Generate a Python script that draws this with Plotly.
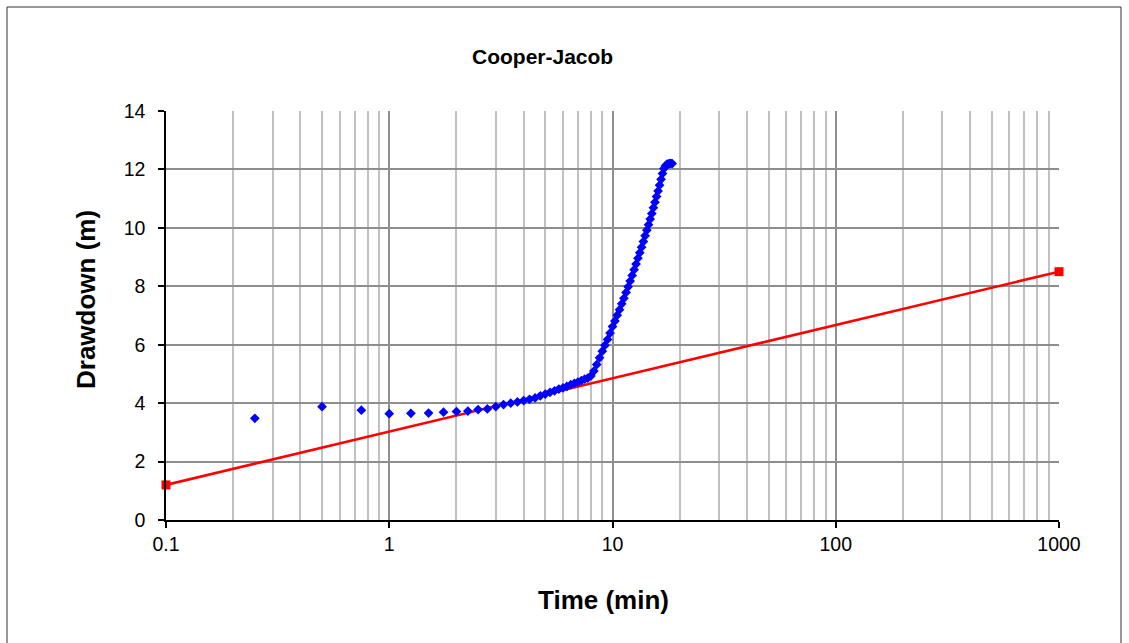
import plotly.graph_objects as go

# ---- data ----
time_min = [0.25, 0.5, 0.75, 1.0, 1.25, 1.5, 1.75, 2.0, 2.25, 2.5, 2.75, 3.0,
            3.25, 3.5, 3.75, 4.0, 4.25, 4.5, 4.75, 5.0, 5.25, 5.5, 5.75, 6.0,
            6.25, 6.5, 6.75, 7.0, 7.25, 7.5, 7.75, 8.0, 8.25, 8.5, 8.75, 9.0,
            9.25, 9.5, 9.75, 10.0, 10.25, 10.5, 10.75, 11.0, 11.25, 11.5, 11.75, 12.0,
            12.25, 12.5, 12.75, 13.0, 13.25, 13.5, 13.75, 14.0, 14.25, 14.5, 14.75, 15.0,
            15.25, 15.5, 15.75, 16.0, 16.25, 16.5, 16.75, 17.0, 17.25, 17.5, 17.75, 18.0,
            18.25, 18.5]
drawdown_m = [3.48, 3.88, 3.76, 3.64, 3.65, 3.66, 3.69, 3.71, 3.73, 3.78, 3.80, 3.88,
              3.95, 4.00, 4.04, 4.09, 4.13, 4.18, 4.25, 4.31, 4.37, 4.42, 4.48, 4.52,
              4.57, 4.63, 4.68, 4.72, 4.77, 4.82, 4.86, 4.93, 5.10, 5.32, 5.55, 5.78,
              5.98, 6.18, 6.40, 6.62, 6.81, 7.01, 7.20, 7.40, 7.59, 7.79, 7.98, 8.18,
              8.37, 8.57, 8.76, 8.96, 9.15, 9.34, 9.53, 9.73, 9.92, 10.11, 10.30, 10.49,
              10.69, 10.88, 11.07, 11.26, 11.46, 11.66, 11.86, 12.03, 12.12, 12.17, 12.19, 12.20,
              12.21, 12.20]

fit_time = [0.1, 1000]
fit_drawdown = [1.2, 8.5]

x_major = [0.1, 1, 10, 100, 1000]
x_major_text = ["0.1", "1", "10", "100", "1000"]
x_minor = [0.2, 0.3, 0.4, 0.5, 0.6, 0.7, 0.8, 0.9,
           2, 3, 4, 5, 6, 7, 8, 9,
           20, 30, 40, 50, 60, 70, 80, 90,
           200, 300, 400, 500, 600, 700, 800, 900]

title_text = "Cooper-Jacob"
x_title = "Time (min)"
y_title = "Drawdown (m)"

FONT = "Arial, Liberation Sans, sans-serif"

fig = go.Figure()
fig.add_trace(go.Scatter(
    x=fit_time, y=fit_drawdown, mode="lines+markers",
    line=dict(color="#FF0000", width=2.6),
    marker=dict(symbol="square", size=9, color="#FF0000"),
    showlegend=False, cliponaxis=False))
fig.add_trace(go.Scatter(
    x=time_min, y=drawdown_m, mode="markers",
    marker=dict(symbol="diamond", size=7.5, color="#0000FF"),
    showlegend=False, cliponaxis=False))

L, R, T, B = 166, 1059, 111, 520
W, H = 1129, 643
pw, ph = R - L, B - T

def px(xp):
    return (xp - L) / pw

def py(yp):
    return (B - yp) / ph

fig.update_layout(
    width=W, height=H,
    margin=dict(l=L, r=W - R, t=T, b=H - B, pad=0),
    paper_bgcolor="white", plot_bgcolor="white",
    font=dict(family=FONT, color="black", size=19.5),
    xaxis=dict(
        type="log", range=[-1, 3],
        tickmode="array", tickvals=x_major, ticktext=x_major_text,
        showgrid=True, gridcolor="#8e8e8e", gridwidth=2,
        showline=True, linecolor="black", linewidth=1.5,
        ticks="outside", ticklen=6, tickcolor="black", tickwidth=1.5,
        tickfont=dict(size=19.5, family=FONT),
        zeroline=False,
        minor=dict(tickmode="array", tickvals=x_minor, showgrid=True,
                   gridcolor="#c0c0c0", gridwidth=2, ticks=""),
    ),
    yaxis=dict(
        range=[0, 14], dtick=2, tick0=0,
        showgrid=True, gridcolor="#8e8e8e", gridwidth=2,
        showline=True, linecolor="black", linewidth=1.5,
        ticks="outside", ticklen=6, tickcolor="black", tickwidth=1.5,
        tickfont=dict(size=19.5, family=FONT),
        ticklabelstandoff=9,
        zeroline=False,
    ),
    shapes=[dict(type="rect", xref="paper", yref="paper",
                 x0=px(7), x1=px(1121), y0=py(7), y1=py(660),
                 line=dict(color="#303030", width=1), fillcolor="rgba(0,0,0,0)",
                 layer="below")],
    annotations=[
        dict(text="<b>" + title_text + "</b>", xref="paper", yref="paper",
             x=px(542), y=py(57), xanchor="center", yanchor="middle",
             showarrow=False, font=dict(size=21, family=FONT)),
        dict(text="<b>" + x_title + "</b>", xref="paper", yref="paper",
             x=px(603), y=py(600), xanchor="center", yanchor="middle",
             showarrow=False, font=dict(size=26, family=FONT)),
        dict(text="<b>" + y_title + "</b>", xref="paper", yref="paper",
             x=px(86), y=py(300), xanchor="center", yanchor="middle",
             textangle=-90, showarrow=False, font=dict(size=26, family=FONT)),
    ],
)

fig.write_html("out.html")
